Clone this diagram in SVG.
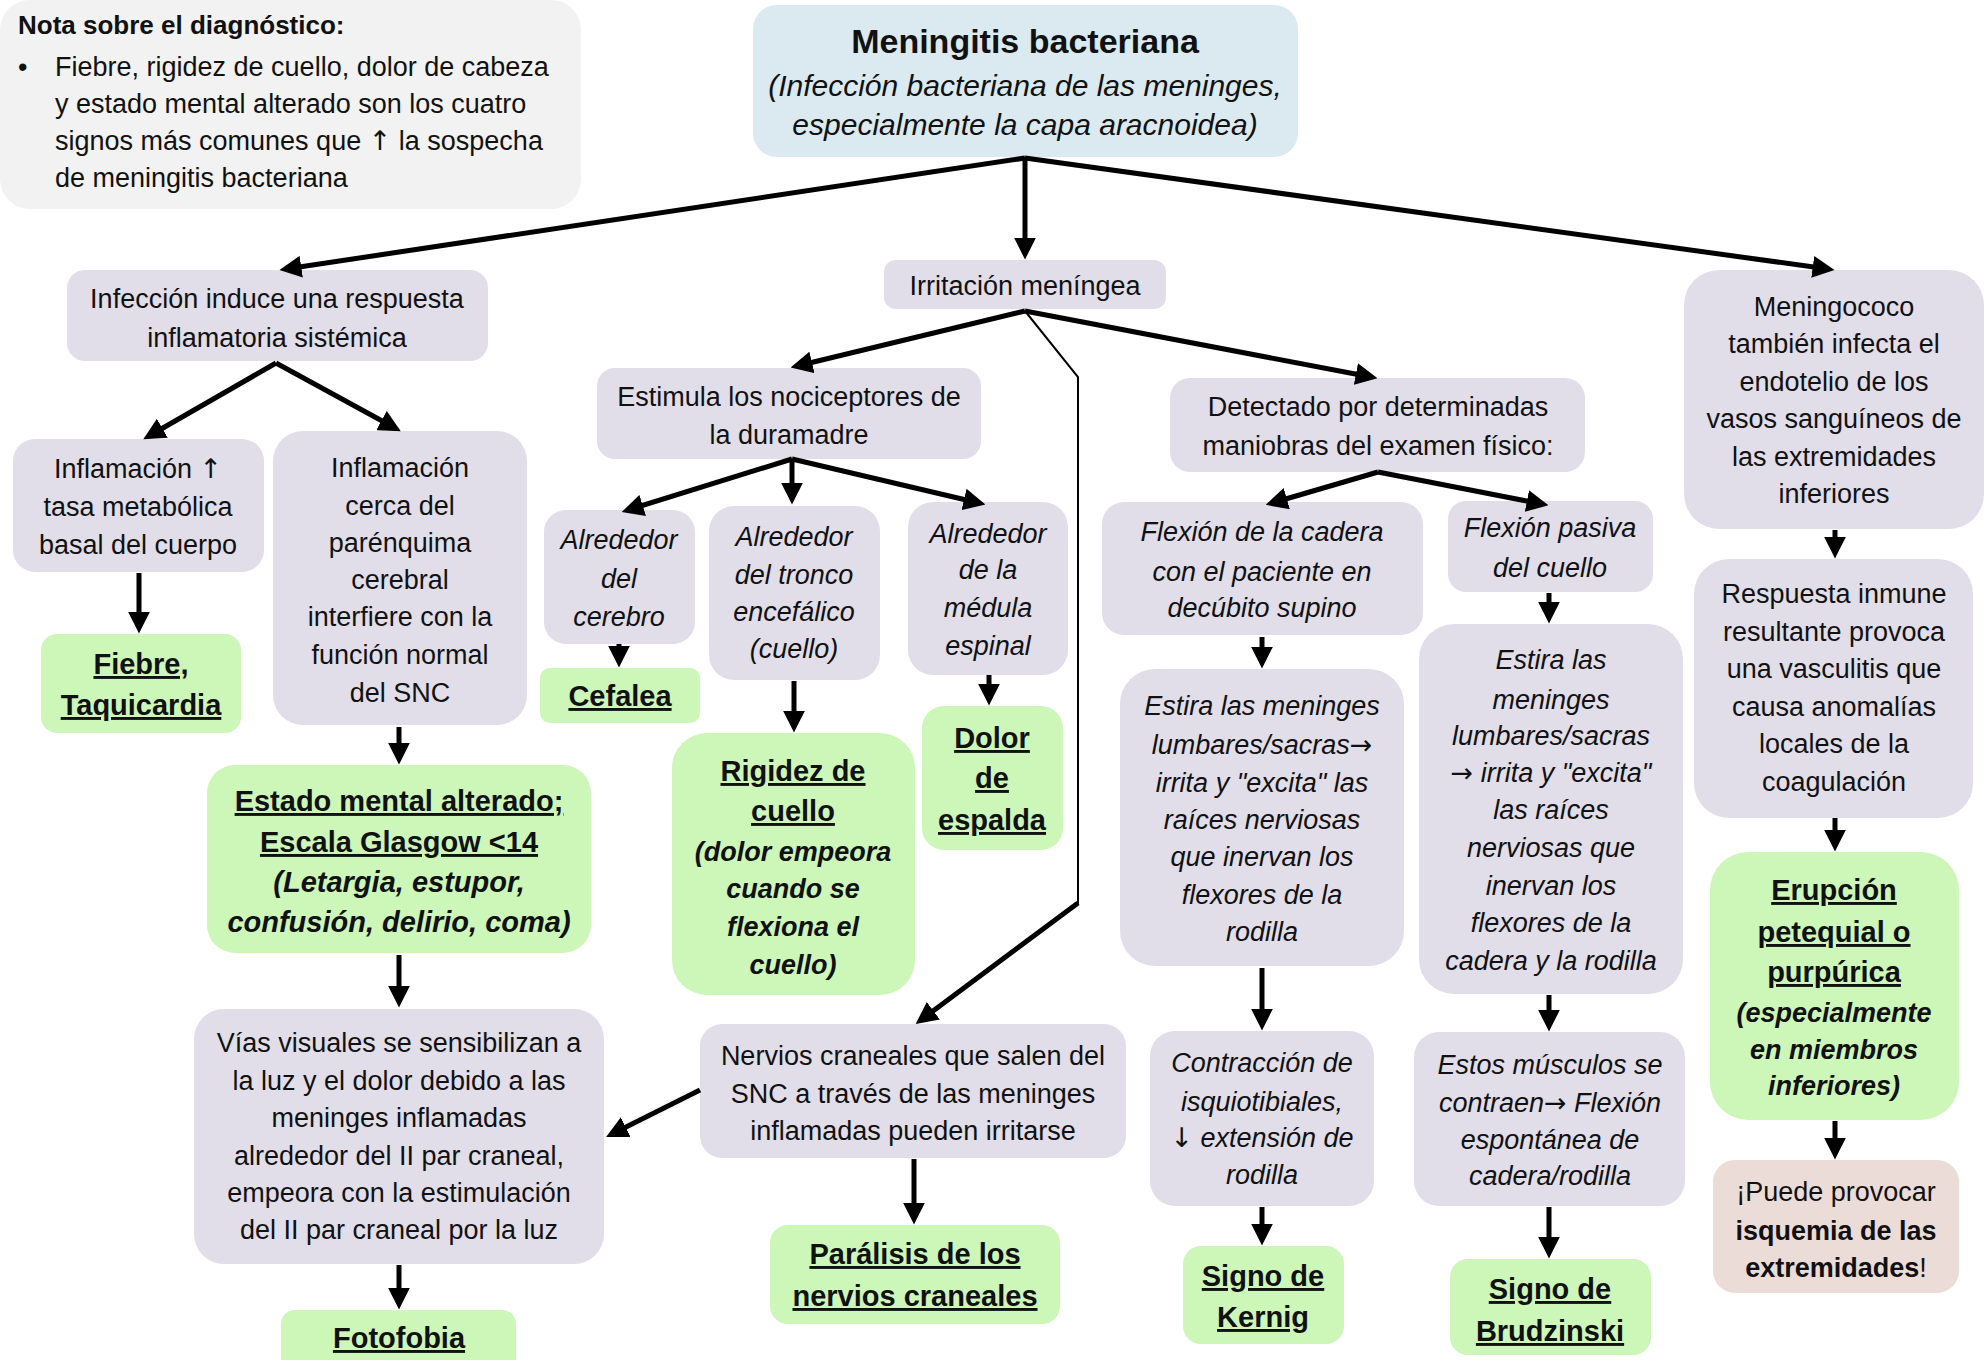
<svg xmlns="http://www.w3.org/2000/svg" width="1988" height="1360" viewBox="0 0 1988 1360">
<defs>
<style>
.n{fill:#e1deea}.g{fill:#cdf6b9}.b{fill:#dbeaf0}.r{fill:#ecdcd7}.nt{fill:#f2f2f2}
text{font-family:"Liberation Sans",Arial,sans-serif;font-size:27px;fill:#111;text-anchor:middle}
.i{font-style:italic}.bd{font-weight:bold}.u{text-decoration:underline}.gb{font-size:29px;font-weight:bold}
.ar{font-family:"DejaVu Sans",sans-serif;font-style:normal}
.c{stroke:#000;stroke-width:5;fill:none;marker-end:url(#ah)}
.t{stroke:#000;stroke-width:2;fill:none}
</style>
<marker id="ah" viewBox="0 0 20 20" refX="14" refY="10" markerWidth="22" markerHeight="22" markerUnits="userSpaceOnUse" orient="auto"><path d="M0,0 L20,10 L0,20 z" fill="#000"/></marker>
</defs>
<rect width="1988" height="1360" fill="#fff"/>

<g id="note">
<rect class="nt" x="0" y="0" width="581" height="209" rx="30"/>
<text x="18" y="34" class="bd" style="text-anchor:start;font-size:26px">Nota sobre el diagnóstico:</text>
<text x="18" y="76" style="text-anchor:start">•</text>
<text x="55" y="76" style="text-anchor:start">Fiebre, rigidez de cuello, dolor de cabeza</text>
<text x="55" y="113" style="text-anchor:start">y estado mental alterado son los cuatro</text>
<text x="55" y="150" style="text-anchor:start">signos más comunes que <tspan class="ar">↑</tspan> la sospecha</text>
<text x="55" y="187" style="text-anchor:start">de meningitis bacteriana</text>
</g>

<g id="title">
<rect class="b" x="753" y="5" width="545" height="152" rx="24"/>
<text x="1025" y="53" class="bd" style="font-size:34px">Meningitis bacteriana</text>
<text x="1025" y="96" class="i" style="font-size:30px">(Infección bacteriana de las meninges,</text>
<text x="1025" y="135" class="i" style="font-size:30px">especialmente la capa aracnoidea)</text>
</g>

<g id="n1">
<rect class="n" x="67" y="270" width="421" height="91" rx="18"/>
<text x="277" y="308">Infección induce una respuesta</text>
<text x="277" y="347">inflamatoria sistémica</text>
</g>

<g id="n2">
<rect class="n" x="884" y="260" width="282" height="49" rx="12"/>
<text x="1025" y="295">Irritación meníngea</text>
</g>

<g id="n3">
<rect class="n" x="1684" y="270" width="300" height="259" rx="35"/>
<text x="1834" y="316">Meningococo</text>
<text x="1834" y="353">también infecta el</text>
<text x="1834" y="391">endotelio de los</text>
<text x="1834" y="428">vasos sanguíneos de</text>
<text x="1834" y="466">las extremidades</text>
<text x="1834" y="503">inferiores</text>
</g>

<g id="n4">
<rect class="n" x="13" y="439" width="251" height="133" rx="22"/>
<text x="138" y="478">Inflamación <tspan class="ar">↑</tspan></text>
<text x="138" y="516">tasa metabólica</text>
<text x="138" y="554">basal del cuerpo</text>
</g>

<g id="n5">
<rect class="n" x="273" y="431" width="254" height="294" rx="30"/>
<text x="400" y="477">Inflamación</text>
<text x="400" y="515">cerca del</text>
<text x="400" y="552">parénquima</text>
<text x="400" y="589">cerebral</text>
<text x="400" y="626">interfiere con la</text>
<text x="400" y="664">función normal</text>
<text x="400" y="702">del SNC</text>
</g>

<g id="n6">
<rect class="g" x="41" y="634" width="200" height="99" rx="16"/>
<text x="141" y="674" class="gb u">Fiebre,</text>
<text x="141" y="715" class="gb u">Taquicardia</text>
</g>

<g id="n7">
<rect class="g" x="207" y="765" width="384" height="188" rx="28"/>
<text x="399" y="811" class="gb u">Estado mental alterado;</text>
<text x="399" y="852" class="gb u">Escala Glasgow &lt;14</text>
<text x="399" y="892" class="gb i">(Letargia, estupor,</text>
<text x="399" y="932" class="gb i">confusión, delirio, coma)</text>
</g>

<g id="n8">
<rect class="n" x="194" y="1009" width="410" height="255" rx="30"/>
<text x="399" y="1052">Vías visuales se sensibilizan a</text>
<text x="399" y="1090">la luz y el dolor debido a las</text>
<text x="399" y="1127">meninges inflamadas</text>
<text x="399" y="1165">alrededor del II par craneal,</text>
<text x="399" y="1202">empeora con la estimulación</text>
<text x="399" y="1239">del II par craneal por la luz</text>
</g>

<g id="n9">
<rect class="g" x="281" y="1310" width="235" height="70" rx="14"/>
<text x="399" y="1348" class="gb u">Fotofobia</text>
</g>

<g id="n10">
<rect class="n" x="597" y="368" width="384" height="91" rx="18"/>
<text x="789" y="406">Estimula los nociceptores de</text>
<text x="789" y="444">la duramadre</text>
</g>

<g id="n11">
<rect class="n" x="544" y="510" width="151" height="134" rx="22"/>
<text x="619" y="549" class="i">Alrededor</text>
<text x="619" y="588" class="i">del</text>
<text x="619" y="626" class="i">cerebro</text>
</g>

<g id="n12">
<rect class="g" x="540" y="668" width="160" height="55" rx="10"/>
<text x="620" y="706" class="gb u">Cefalea</text>
</g>

<g id="n13">
<rect class="n" x="709" y="506" width="171" height="174" rx="25"/>
<text x="794" y="546" class="i">Alrededor</text>
<text x="794" y="584" class="i">del tronco</text>
<text x="794" y="621" class="i">encefálico</text>
<text x="794" y="658" class="i">(cuello)</text>
</g>

<g id="n14">
<rect class="g" x="672" y="733" width="243" height="262" rx="35"/>
<text x="793" y="781" class="gb u">Rigidez de</text>
<text x="793" y="821" class="gb u">cuello</text>
<text x="793" y="861" class="gb i" style="font-size:27px">(dolor empeora</text>
<text x="793" y="898" class="gb i" style="font-size:27px">cuando se</text>
<text x="793" y="936" class="gb i" style="font-size:27px">flexiona el</text>
<text x="793" y="974" class="gb i" style="font-size:27px">cuello)</text>
</g>

<g id="n15">
<rect class="n" x="908" y="502" width="160" height="173" rx="25"/>
<text x="988" y="543" class="i">Alrededor</text>
<text x="988" y="579" class="i">de la</text>
<text x="988" y="617" class="i">médula</text>
<text x="988" y="655" class="i">espinal</text>
</g>

<g id="n16">
<rect class="g" x="922" y="706" width="141" height="144" rx="22"/>
<text x="992" y="748" class="gb u">Dolor</text>
<text x="992" y="788" class="gb u">de</text>
<text x="992" y="830" class="gb u">espalda</text>
</g>

<g id="n17">
<rect class="n" x="1170" y="378" width="415" height="94" rx="20"/>
<text x="1378" y="416">Detectado por determinadas</text>
<text x="1378" y="455">maniobras del examen físico:</text>
</g>

<g id="n18">
<rect class="n" x="1102" y="502" width="321" height="133" rx="22"/>
<text x="1262" y="541" class="i">Flexión de la cadera</text>
<text x="1262" y="581" class="i">con el paciente en</text>
<text x="1262" y="617" class="i">decúbito supino</text>
</g>

<g id="n19">
<rect class="n" x="1448" y="501" width="205" height="91" rx="18"/>
<text x="1550" y="537" class="i">Flexión pasiva</text>
<text x="1550" y="577" class="i">del cuello</text>
</g>

<g id="n20">
<rect class="n" x="1120" y="669" width="284" height="297" rx="35"/>
<text x="1262" y="715" class="i">Estira las meninges</text>
<text x="1262" y="754" class="i">lumbares/sacras<tspan class="ar">→</tspan></text>
<text x="1262" y="792" class="i">irrita y "excita" las</text>
<text x="1262" y="829" class="i">raíces nerviosas</text>
<text x="1262" y="866" class="i">que inervan los</text>
<text x="1262" y="904" class="i">flexores de la</text>
<text x="1262" y="941" class="i">rodilla</text>
</g>

<g id="n21">
<rect class="n" x="1419" y="624" width="264" height="370" rx="35"/>
<text x="1551" y="669" class="i">Estira las</text>
<text x="1551" y="709" class="i">meninges</text>
<text x="1551" y="745" class="i">lumbares/sacras</text>
<text x="1551" y="782" class="i"><tspan class="ar">→</tspan> irrita y "excita"</text>
<text x="1551" y="819" class="i">las raíces</text>
<text x="1551" y="857" class="i">nerviosas que</text>
<text x="1551" y="895" class="i">inervan los</text>
<text x="1551" y="932" class="i">flexores de la</text>
<text x="1551" y="970" class="i">cadera y la rodilla</text>
</g>

<g id="n22">
<rect class="n" x="1150" y="1031" width="224" height="175" rx="25"/>
<text x="1262" y="1072" class="i">Contracción de</text>
<text x="1262" y="1111" class="i">isquiotibiales,</text>
<text x="1262" y="1147" class="i"><tspan class="ar">↓</tspan> extensión de</text>
<text x="1262" y="1184" class="i">rodilla</text>
</g>

<g id="n23">
<rect class="n" x="1414" y="1032" width="271" height="174" rx="25"/>
<text x="1550" y="1074" class="i">Estos músculos se</text>
<text x="1550" y="1112" class="i">contraen<tspan class="ar">→</tspan> Flexión</text>
<text x="1550" y="1149" class="i">espontánea de</text>
<text x="1550" y="1185" class="i">cadera/rodilla</text>
</g>

<g id="n24">
<rect class="g" x="1183" y="1246" width="161" height="98" rx="18"/>
<text x="1263" y="1286" class="gb u">Signo de</text>
<text x="1263" y="1327" class="gb u">Kernig</text>
</g>

<g id="n25">
<rect class="g" x="1450" y="1259" width="201" height="96" rx="18"/>
<text x="1550" y="1299" class="gb u">Signo de</text>
<text x="1550" y="1341" class="gb u">Brudzinski</text>
</g>

<g id="n26">
<rect class="n" x="700" y="1024" width="426" height="134" rx="22"/>
<text x="913" y="1065">Nervios craneales que salen del</text>
<text x="913" y="1103">SNC a través de las meninges</text>
<text x="913" y="1140">inflamadas pueden irritarse</text>
</g>

<g id="n27">
<rect class="g" x="770" y="1225" width="290" height="99" rx="18"/>
<text x="915" y="1264" class="gb u">Parálisis de los</text>
<text x="915" y="1306" class="gb u">nervios craneales</text>
</g>

<g id="n28">
<rect class="n" x="1694" y="559" width="279" height="259" rx="35"/>
<text x="1834" y="603">Respuesta inmune</text>
<text x="1834" y="641">resultante provoca</text>
<text x="1834" y="678">una vasculitis que</text>
<text x="1834" y="716">causa anomalías</text>
<text x="1834" y="753">locales de la</text>
<text x="1834" y="791">coagulación</text>
</g>

<g id="n29">
<rect class="g" x="1710" y="852" width="249" height="268" rx="38"/>
<text x="1834" y="900" class="gb u">Erupción</text>
<text x="1834" y="942" class="gb u">petequial o</text>
<text x="1834" y="982" class="gb u">purpúrica</text>
<text x="1834" y="1022" class="gb i" style="font-size:27px">(especialmente</text>
<text x="1834" y="1059" class="gb i" style="font-size:27px">en miembros</text>
<text x="1834" y="1095" class="gb i" style="font-size:27px">inferiores)</text>
</g>

<g id="n30">
<rect class="r" x="1713" y="1160" width="246" height="133" rx="22"/>
<text x="1836" y="1201">¡Puede provocar</text>
<text x="1836" y="1240" class="bd">isquemia de las</text>
<text x="1836" y="1277"><tspan class="bd">extremidades</tspan>!</text>
</g>

<g id="connectors">
<path class="c" d="M1025,158 L286,269"/>
<path class="c" d="M1025,158 L1025,253"/>
<path class="c" d="M1025,158 L1828,269"/>
<path class="c" d="M276,363 L149,436"/>
<path class="c" d="M276,363 L395,428"/>
<path class="c" d="M139,573 L139,627"/>
<path class="c" d="M399,727 L399,758"/>
<path class="c" d="M399,955 L399,1001"/>
<path class="c" d="M399,1265 L399,1303"/>
<path class="c" d="M1025,311 L797,366"/>
<path class="c" d="M1025,311 L1371,377"/>
<path class="t" d="M1025,311 L1078,377 L1078,904"/>
<path class="c" d="M1078,903 L921,1020"/>
<path class="c" d="M700,1090 L612,1134"/>
<path class="c" d="M914,1159 L914,1218"/>
<path class="c" d="M792,459 L628,510"/>
<path class="c" d="M792,459 L792,498"/>
<path class="c" d="M792,459 L979,503"/>
<path class="c" d="M619,644 L619,661"/>
<path class="c" d="M794,681 L794,726"/>
<path class="c" d="M989,675 L989,699"/>
<path class="c" d="M1378,472 L1272,503"/>
<path class="c" d="M1378,472 L1542,504"/>
<path class="c" d="M1262,637 L1262,662"/>
<path class="c" d="M1549,593 L1549,617"/>
<path class="c" d="M1262,968 L1262,1024"/>
<path class="c" d="M1549,995 L1549,1025"/>
<path class="c" d="M1262,1207 L1262,1239"/>
<path class="c" d="M1549,1207 L1549,1252"/>
<path class="c" d="M1835,530 L1835,552"/>
<path class="c" d="M1835,818 L1835,845"/>
<path class="c" d="M1835,1121 L1835,1153"/>
</g>
</svg>
